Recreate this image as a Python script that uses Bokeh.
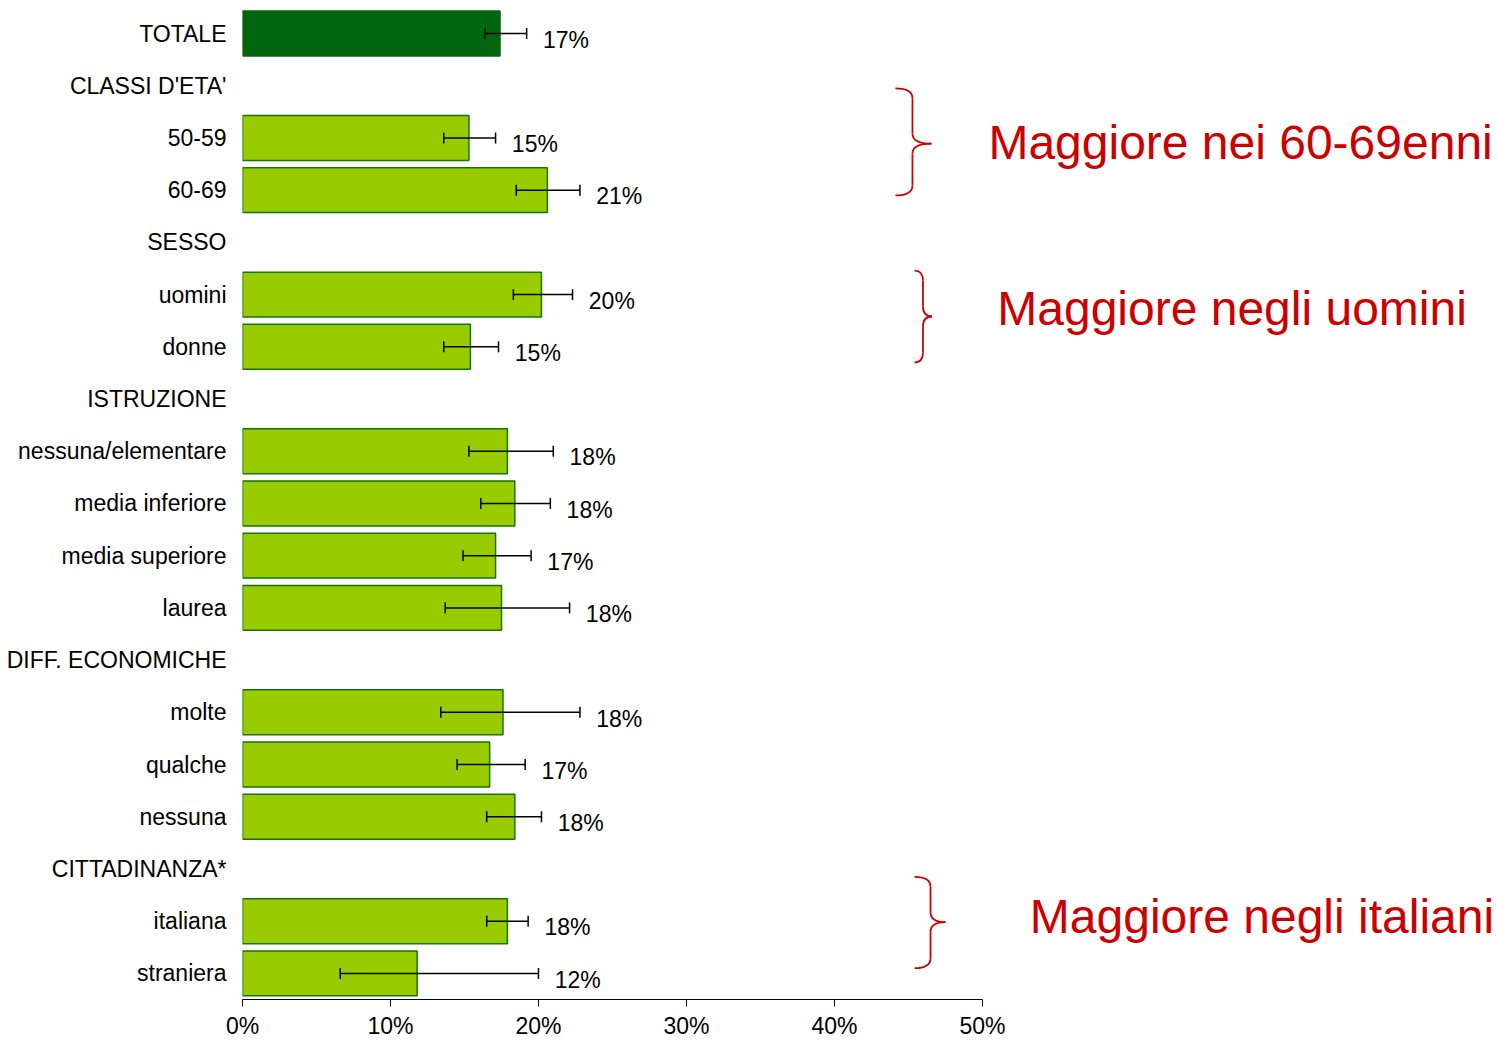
from bokeh.plotting import figure
from bokeh.models import (Range1d, FixedTicker, ColumnDataSource, Whisker, TeeHead, Label)
from bokeh.core.properties import value
from bokeh.embed import file_html
from bokeh.resources import INLINE

# ---------------- data ----------------
rows = ["TOTALE", "CLASSI D'ETA'", "50-59", "60-69", "SESSO", "uomini", "donne",
        "ISTRUZIONE", "nessuna/elementare", "media inferiore", "media superiore", "laurea",
        "DIFF. ECONOMICHE", "molte", "qualche", "nessuna", "CITTADINANZA*",
        "italiana", "straniera"]

bar_rows = ["TOTALE", "50-59", "60-69", "uomini", "donne", "nessuna/elementare",
            "media inferiore", "media superiore", "laurea", "molte", "qualche",
            "nessuna", "italiana", "straniera"]
values = [17.4, 15.3, 20.6, 20.2, 15.4, 17.9, 18.4, 17.1, 17.5, 17.6, 16.7, 18.4, 17.9, 11.8]
ci_low = [16.4, 13.6, 18.5, 18.3, 13.6, 15.3, 16.1, 14.9, 13.7, 13.4, 14.5, 16.5, 16.5, 6.6]
ci_high = [19.2, 17.1, 22.8, 22.3, 17.3, 21.0, 20.8, 19.5, 22.1, 22.8, 19.1, 20.2, 19.3, 20.0]
pct_labels = ["17%", "15%", "21%", "20%", "15%", "18%", "18%", "17%", "18%", "18%",
              "17%", "18%", "18%", "12%"]

x_ticks = [0, 10, 20, 30, 40, 50]
x_tick_labels = ["0%", "10%", "20%", "30%", "40%", "50%"]

notes = ["Maggiore nei 60-69enni", "Maggiore negli uomini", "Maggiore negli italiani"]

# ---------------- styles ----------------
FONT = "Liberation Sans"
DARK = "#02650F"
LIGHT = "#99CC00"
EDGE = "#16720F"
RED = "#CC0000"

p = figure(width=1497, height=1041, output_backend="svg", toolbar_location=None,
           x_range=Range1d(0, 84.8), y_range=Range1d(18.5, -0.632),
           min_border_left=242, min_border_right=0, min_border_top=0, min_border_bottom=0)
p.outline_line_color = None
p.xgrid.grid_line_color = None
p.ygrid.grid_line_color = None
p.background_fill_color = "white"
p.border_fill_color = "white"

ypos = [rows.index(r) for r in bar_rows]
src = ColumnDataSource(dict(
    y=ypos, v=values, lo=ci_low, hi=ci_high, lab=pct_labels,
    lx=[h + 1.1 for h in ci_high], ly=[y + 0.12 for y in ypos],
    col=[DARK if r == "TOTALE" else LIGHT for r in bar_rows],
    edge=[DARK if r == "TOTALE" else EDGE for r in bar_rows],
))

p.hbar(y="y", left=0, right="v", height=0.86, fill_color="col", line_color="edge",
       line_width=1.5, source=src)

w = Whisker(source=src, base="y", lower="lo", upper="hi", dimension="width",
            line_color="black", line_width=1.5, level="overlay",
            upper_head=TeeHead(size=11, line_color="black", line_width=1.5),
            lower_head=TeeHead(size=11, line_color="black", line_width=1.5))
p.add_layout(w)

p.text(x="lx", y="ly", text="lab", source=src, text_font=value(FONT),
       text_font_size="23px", text_baseline="middle", text_align="left", text_color="black")

# y axis: category labels
p.yaxis.ticker = FixedTicker(ticks=list(range(len(rows))))
p.yaxis.major_label_overrides = {i: r for i, r in enumerate(rows)}
p.yaxis.axis_line_color = None
p.yaxis.major_tick_line_color = None
p.yaxis.minor_tick_line_color = None
p.yaxis.major_tick_out = 0
p.yaxis.major_tick_in = 0
p.yaxis.major_label_standoff = 16
p.yaxis.major_label_text_font = FONT
p.yaxis.major_label_text_font_size = "23px"
p.yaxis.major_label_text_color = "black"

# x axis
p.xaxis.ticker = FixedTicker(ticks=x_ticks)
p.xaxis.major_label_overrides = {t: l for t, l in zip(x_ticks, x_tick_labels)}
p.xaxis.bounds = (0, 50)
p.xaxis.axis_line_color = "black"
p.xaxis.axis_line_width = 1
p.xaxis.major_tick_line_color = "black"
p.xaxis.major_tick_out = 7
p.xaxis.major_tick_in = 0
p.xaxis.minor_tick_line_color = None
p.xaxis.major_label_standoff = 6
p.xaxis.major_label_text_font = FONT
p.xaxis.major_label_text_font_size = "23px"
p.xaxis.major_label_text_color = "black"

# ---------------- braces and notes ----------------
# (top row, middle row, bottom row, left x, stem x, tip x)
braces = [
    (1.05, 2.11, 3.10, 44.12, 45.27, 46.55),
    (4.54, 5.42, 6.30, 45.41, 45.98, 46.59),
    (16.15, 17.02, 17.90, 45.41, 46.49, 47.50),
]
note_pos = [(50.4, 2.08), (51.0, 5.26), (53.2, 16.91)]
r = 0.19
for (yt, ym, yb, x0, xv, xt), txt, (nx, ny) in zip(braces, notes, note_pos):
    qs = dict(
        x0=[x0, xv, xt, xv], y0=[yt, ym - r, ym, yb - r],
        x1=[xv, xt, xv, x0], y1=[yt + r, ym, ym + r, yb],
        cx=[xv, xv, xv, xv], cy=[yt, ym, ym, yb],
    )
    p.quadratic(x0="x0", y0="y0", x1="x1", y1="y1", cx="cx", cy="cy",
                source=ColumnDataSource(qs), line_color=RED, line_width=1.8)
    p.segment(x0=[xv, xv], y0=[yt + r, ym + r], x1=[xv, xv], y1=[ym - r, yb - r],
              line_color=RED, line_width=1.8)
    p.add_layout(Label(x=nx, y=ny, text=txt, text_font=FONT, text_font_size="48px",
                       text_color=RED, text_baseline="middle", text_align="left"))

open("out.html", "w").write(file_html(p, INLINE))
